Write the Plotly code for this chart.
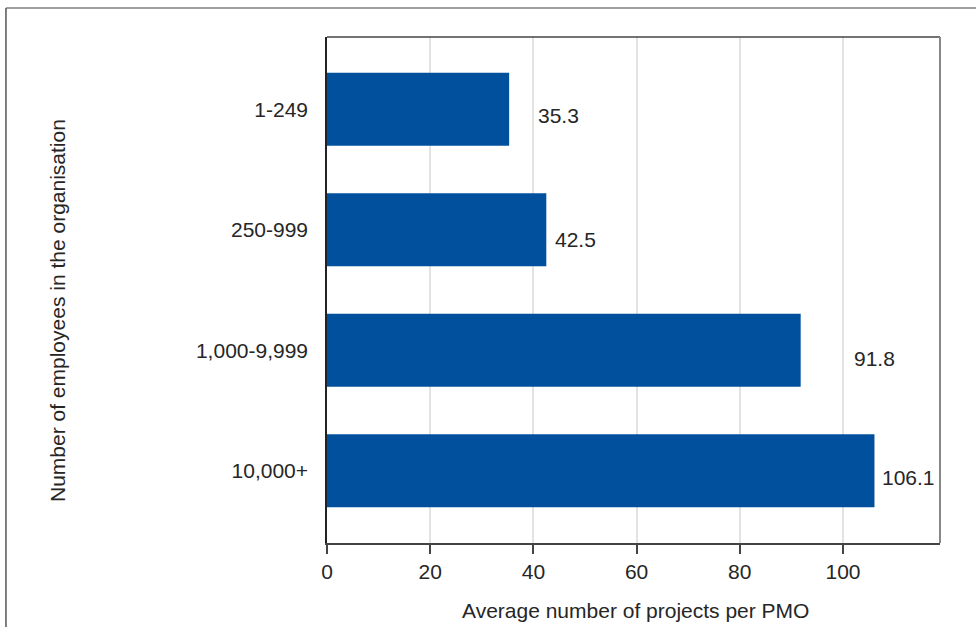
import plotly.graph_objects as go

# Employee-size bands and average number of projects per PMO
categories = ["1-249", "250-999", "1,000-9,999", "10,000+"]
avg_projects = [35.3, 42.5, 91.8, 106.1]
x_ticks = [0, 20, 40, 60, 80, 100]

BAR_COLOR = "#01509D"
TEXT_COLOR = "#262626"
FONT = "Liberation Sans, Arial, sans-serif"
FS = 21

fig = go.Figure(
    go.Bar(
        x=avg_projects,
        y=categories,
        orientation="h",
        marker=dict(color=BAR_COLOR, line=dict(width=0)),
        width=0.605,
        hoverinfo="x+y",
    )
)

# value labels beside each bar (offsets keep them clear of the bars)
label_offsets = [(27, -6), (7, -10), (51, -8), (6, -7)]
for cat, val, (dx, dy) in zip(categories, avg_projects, label_offsets):
    fig.add_annotation(
        x=val, y=cat, text=f"{val:.1f}", showarrow=False,
        xanchor="left", yanchor="middle", xshift=dx, yshift=dy,
        font=dict(size=FS, color=TEXT_COLOR, family=FONT),
    )

# axis titles
fig.add_annotation(
    x=0.503, y=-0.134, xref="paper", yref="paper",
    text="Average number of projects per PMO", showarrow=False,
    xanchor="center", yanchor="middle",
    font=dict(size=FS, color=TEXT_COLOR, family=FONT),
)
fig.add_annotation(
    x=-0.4388, y=0.4585, xref="paper", yref="paper",
    text="Number of employees in the organisation", showarrow=False,
    textangle=-90, xanchor="center", yanchor="middle",
    font=dict(size=FS, color=TEXT_COLOR, family=FONT),
)

# plot frame: dark top edge, grey right edge
fig.add_shape(type="line", xref="paper", yref="paper", x0=0, x1=1, y0=1, y1=1,
              line=dict(color="#444444", width=1.5))
fig.add_shape(type="line", xref="paper", yref="paper", x0=1, x1=1, y0=0, y1=1,
              line=dict(color="#888888", width=2))

# outer figure border (top and left edges)
fig.add_shape(type="line", xref="paper", yref="paper", x0=-0.5237, x1=1.2, y0=1.0573, y1=1.0573,
              line=dict(color="#808080", width=1.5))
fig.add_shape(type="line", xref="paper", yref="paper", x0=-0.5237, x1=-0.5237, y0=-0.25, y1=1.0573,
              line=dict(color="#555555", width=1.5))

fig.update_layout(
    width=976, height=627,
    margin=dict(l=327, r=36, t=37, b=84),
    paper_bgcolor="white", plot_bgcolor="white",
    showlegend=False,
    font=dict(family=FONT, size=FS, color=TEXT_COLOR),
    bargap=0.4,
)
fig.update_xaxes(
    range=[0, 118.8], tickvals=x_ticks,
    showgrid=True, gridcolor="#E3E3E3", gridwidth=2,
    showline=True, linecolor="#444444", linewidth=1.5,
    ticks="outside", ticklen=9, tickcolor="#444444", tickwidth=1.5,
    tickfont=dict(size=FS, color=TEXT_COLOR, family=FONT),
    zeroline=False, fixedrange=True,
)
fig.update_yaxes(
    categoryorder="array", categoryarray=categories,
    autorange=False, range=[3.6, -0.6],
    showgrid=False, zeroline=False,
    showline=True, linecolor="#222222", linewidth=1.5,
    ticks="", ticklabelstandoff=13,
    tickfont=dict(size=FS, color=TEXT_COLOR, family=FONT),
    fixedrange=True,
)

fig.write_html("out.html")
